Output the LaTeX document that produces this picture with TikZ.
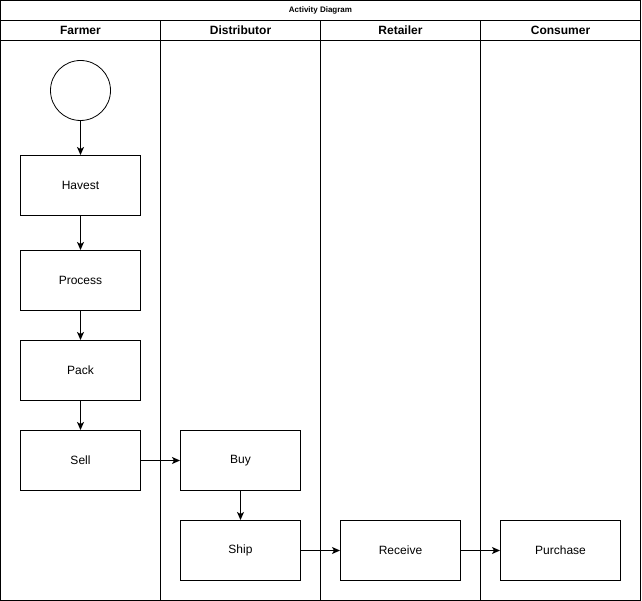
\documentclass[tikz,border=0pt]{standalone}
\usepackage{fontspec}
\setmainfont{Liberation Sans}
\usetikzlibrary{arrows.meta}
\begin{document}
\begin{tikzpicture}[x=1pt,y=-1pt,
  every node/.style={font=\fontsize{12}{14}\selectfont},
  act/.style={draw,line width=1pt,minimum width=120pt,minimum height=60pt,inner sep=0pt},
  startnode/.style={draw,line width=0.8pt,circle,minimum size=60pt,inner sep=0pt},
  lane/.style={line width=1pt},
  flow/.style={line width=1pt,-{Stealth[length=8pt,width=7pt,inset=2pt]}},
  head/.style={font=\bfseries\fontsize{12}{14}\selectfont},
]
\useasboundingbox (0,0) rectangle (642,601);
\fill[white] (0,0) rectangle (642,601);

% pool frame, title bar and lane headers
\draw[lane] (0.5,0.5) rectangle (640.5,600.5);
\draw[lane] (0.5,20.5) -- (640.5,20.5);
\draw[lane] (0.5,40.5) -- (640.5,40.5);
\foreach \x in {160.5,320.5,480.5} \draw[lane] (\x,20.5) -- (\x,600.5);

\node[font=\bfseries\fontsize{8}{10}\selectfont] (title) at (320.5,10.5) {Activity Diagram};
\node[head] (hfarmer) at (80.5,30.5) {Farmer};
\node[head] (hdist) at (240.5,30.5) {Distributor};
\node[head] (hret) at (400.5,30.5) {Retailer};
\node[head] (hcons) at (560.5,30.5) {Consumer};

% activities
\node[startnode] (start) at (80.5,90.5) {};
\node[act] (havest) at (80.5,185.5) {Havest};
\node[act] (process) at (80.5,280.5) {Process};
\node[act] (pack) at (80.5,370.5) {Pack};
\node[act] (sell) at (80.5,460.5) {Sell};
\node[act] (buy) at (240.5,460.5) {Buy};
\node[act] (ship) at (240.5,550.5) {Ship};
\node[act] (receive) at (400.5,550.5) {Receive};
\node[act] (purchase) at (560.5,550.5) {Purchase};

% control flow
\draw[flow] (start) -- (havest);
\draw[flow] (havest) -- (process);
\draw[flow] (process) -- (pack);
\draw[flow] (pack) -- (sell);
\draw[flow] (sell) -- (buy);
\draw[flow] (buy) -- (ship);
\draw[flow] (ship) -- (receive);
\draw[flow] (receive) -- (purchase);
\end{tikzpicture}
\end{document}
